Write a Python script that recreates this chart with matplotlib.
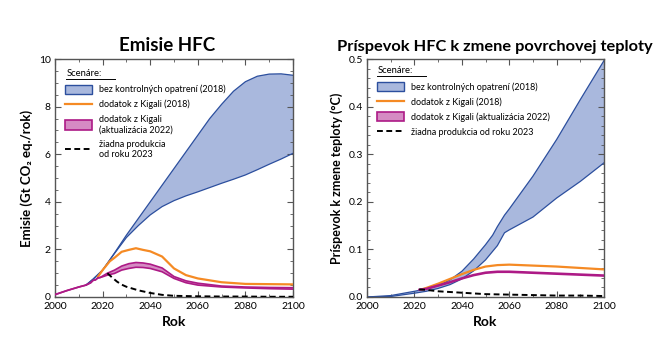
import matplotlib.pyplot as plt
from matplotlib.patches import Patch
from matplotlib.lines import Line2D
from matplotlib.ticker import MultipleLocator

plt.rcParams['font.family'] = ['Lato', 'DejaVu Sans']

# --- Emisie HFC (Gt CO2 eq./rok) ---
em_bau_years = [2013, 2016, 2020, 2025, 2030, 2035, 2040, 2045, 2050, 2055, 2060, 2065,
                2070, 2075, 2080, 2085, 2090, 2095, 2100]
em_bau_hi = [0.5, 0.75, 1.13, 1.85, 2.6, 3.3, 4.0, 4.7, 5.4, 6.1, 6.8, 7.5,
             8.1, 8.65, 9.05, 9.28, 9.37, 9.38, 9.32]
em_bau_lo = [0.5, 0.75, 1.13, 1.83, 2.5, 3.0, 3.45, 3.8, 4.05, 4.25, 4.42, 4.6,
             4.78, 4.95, 5.13, 5.35, 5.58, 5.8, 6.04]

em_k18_years = [2018, 2020, 2023, 2025, 2028, 2031, 2034, 2037, 2040, 2045, 2050, 2055,
                2060, 2070, 2080, 2090, 2100]
em_k18 = [0.85, 1.13, 1.5, 1.65, 1.9, 1.98, 2.05, 1.98, 1.92, 1.7, 1.2, 0.92,
          0.78, 0.62, 0.55, 0.54, 0.53]

em_k22_years = [2000, 2005, 2010, 2013, 2015, 2016, 2017, 2018, 2019, 2020, 2022, 2025,
                2028, 2031, 2034, 2037, 2040, 2045, 2050, 2055, 2060, 2070, 2080, 2090, 2100]
em_k22_hi = [0.1, 0.27, 0.42, 0.5, 0.6, 0.7, 0.72, 0.8, 0.82, 0.88, 1.0, 1.13,
             1.3, 1.4, 1.45, 1.43, 1.38, 1.22, 0.86, 0.68, 0.58, 0.46, 0.42, 0.4, 0.39]
em_k22_lo = [0.1, 0.27, 0.42, 0.5, 0.6, 0.7, 0.72, 0.8, 0.82, 0.85, 0.92, 0.99,
             1.13, 1.2, 1.25, 1.24, 1.2, 1.06, 0.78, 0.6, 0.5, 0.42, 0.38, 0.35, 0.33]

em_zero_years = [2022, 2024, 2026, 2028, 2030, 2035, 2040, 2045, 2050, 2060, 2070, 2080, 2090, 2100]
em_zero = [1.0, 0.82, 0.65, 0.52, 0.43, 0.28, 0.17, 0.09, 0.05, 0.03, 0.02, 0.02, 0.01, 0.01]

# --- Príspevok k zmene teploty (°C) ---
t_bau_years = [2000, 2010, 2020, 2025, 2030, 2035, 2040, 2045, 2050, 2053, 2055, 2058,
               2060, 2070, 2080, 2090, 2100]
t_bau_hi = [0.0, 0.003, 0.012, 0.017, 0.024, 0.036, 0.054, 0.08, 0.11, 0.13, 0.148, 0.172,
            0.185, 0.254, 0.331, 0.415, 0.497]
t_bau_lo = [0.0, 0.001, 0.008, 0.012, 0.018, 0.026, 0.038, 0.055, 0.078, 0.096, 0.108, 0.135,
            0.141, 0.168, 0.208, 0.243, 0.282]

t_k18_years = [2023, 2025, 2030, 2035, 2040, 2045, 2050, 2055, 2060, 2070, 2080, 2090, 2100]
t_k18 = [0.016, 0.019, 0.028, 0.038, 0.048, 0.057, 0.064, 0.067, 0.068, 0.066, 0.064, 0.061, 0.058]

t_k22_years = [2022, 2025, 2030, 2035, 2040, 2045, 2050, 2055, 2060, 2070, 2080, 2090, 2100]
t_k22_hi = [0.016, 0.018, 0.025, 0.032, 0.04, 0.047, 0.052, 0.054, 0.054, 0.052, 0.05, 0.048, 0.046]
t_k22_lo = [0.015, 0.016, 0.023, 0.030, 0.038, 0.045, 0.050, 0.052, 0.052, 0.050, 0.048, 0.046, 0.044]

t_zero_years = [2022, 2025, 2030, 2040, 2050, 2060, 2070, 2080, 2090, 2100]
t_zero = [0.016, 0.015, 0.012, 0.009, 0.006, 0.005, 0.004, 0.003, 0.003, 0.002]

labels_left = ['bez kontrolných opatrení (2018)', 'dodatok z Kigali (2018)',
               'dodatok z Kigali\n(aktualizácia 2022)', 'žiadna produkcia\nod roku 2023']
labels_right = ['bez kontrolných opatrení (2018)', 'dodatok z Kigali (2018)',
                'dodatok z Kigali (aktualizácia 2022)', 'žiadna produkcia od roku 2023']

blue_edge = '#2c4f9e'
blue_fill = '#a9b8dd'
orange = '#f58a24'
mag_edge = '#ad1a86'
mag_fill = '#d58bc3'
spine_col = '#555555'

fig = plt.figure(figsize=(6.58, 3.61), dpi=100)
ax1 = fig.add_axes([0.0836, 0.1773, 0.3617, 0.659])
ax2 = fig.add_axes([0.5578, 0.1773, 0.3602, 0.659])


def draw(ax, bau, k18, k22, zero):
    ax.fill_between(bau[0], bau[1], bau[2], facecolor=blue_fill, edgecolor='none', zorder=1)
    ax.plot(bau[0], bau[1], color=blue_edge, lw=0.9, zorder=2)
    ax.plot(bau[0], bau[2], color=blue_edge, lw=0.9, zorder=2)
    ax.plot(k18[0], k18[1], color=orange, lw=1.6, zorder=3)
    ax.fill_between(k22[0], k22[1], k22[2], facecolor=mag_fill, edgecolor='none', zorder=4)
    ax.plot(k22[0], k22[1], color=mag_edge, lw=1.2, zorder=5)
    ax.plot(k22[0], k22[2], color=mag_edge, lw=1.2, zorder=5)
    ax.plot(zero[0], zero[1], color='black', lw=1.4, ls=(0, (3, 1.8)), zorder=6)


draw(ax1, (em_bau_years, em_bau_hi, em_bau_lo), (em_k18_years, em_k18),
     (em_k22_years, em_k22_hi, em_k22_lo), (em_zero_years, em_zero))
draw(ax2, (t_bau_years, t_bau_hi, t_bau_lo), (t_k18_years, t_k18),
     (t_k22_years, t_k22_hi, t_k22_lo), (t_zero_years, t_zero))

ax1.set_ylim(0, 10)
ax1.yaxis.set_major_locator(MultipleLocator(2))
ax1.yaxis.set_minor_locator(MultipleLocator(0.5))
ax2.set_ylim(0, 0.5)
ax2.yaxis.set_major_locator(MultipleLocator(0.1))
ax2.yaxis.set_minor_locator(MultipleLocator(0.02))
ax2.yaxis.set_major_formatter(plt.FormatStrFormatter('%.1f'))

handles = [Patch(facecolor=blue_fill, edgecolor=blue_edge, lw=1.0),
           Line2D([], [], color=orange, lw=1.6),
           Patch(facecolor=mag_fill, edgecolor=mag_edge, lw=1.2),
           Line2D([], [], color='black', lw=1.4, ls=(0, (3, 1.8)))]

for ax, labels, tx, ty, ul in [(ax1, labels_left, 0.05, 0.94, 0.25),
                               (ax2, labels_right, 0.045, 0.952, 0.25)]:
    ax.set_xlim(2000, 2100)
    ax.xaxis.set_major_locator(MultipleLocator(20))
    ax.xaxis.set_minor_locator(MultipleLocator(10))
    ax.tick_params(which='both', direction='in', top=True, right=True,
                   color=spine_col, labelsize=7.5)
    ax.tick_params(which='major', length=4)
    ax.tick_params(which='minor', length=2.5)
    ax.tick_params(axis='x', pad=3.5)
    ax.tick_params(axis='y', pad=3)
    for s in ax.spines.values():
        s.set_color(spine_col)
        s.set_linewidth(1.0)
    ax.set_xlabel('Rok', fontsize=10, fontweight='bold', labelpad=4)
    ax.text(tx, ty, 'Scenáre:', transform=ax.transAxes, fontsize=6.8, va='center', ha='left')
    ax.plot([tx - 0.003, ul], [ty - 0.022, ty - 0.022], transform=ax.transAxes,
            color='black', lw=0.7)
    ax.legend(handles, labels, loc='upper left', bbox_to_anchor=(0.02, ty - 0.025),
              frameon=False, fontsize=6.5, handlelength=3.0, handleheight=1.2,
              labelspacing=0.6, handletextpad=0.8, borderaxespad=0.2)

ax1.set_ylabel('Emisie (Gt CO₂ eq./rok)', fontsize=9.5, fontweight='bold', labelpad=4)
ax2.set_ylabel('Príspevok k zmene teploty (°C)', fontsize=9, fontweight='bold', labelpad=4)
ax1.set_title('Emisie HFC', fontsize=13.5, fontweight='bold', pad=6, x=0.47)
ax2.set_title('Príspevok HFC k zmene povrchovej teploty', fontsize=11.8,
              fontweight='bold', pad=6, x=0.54)

fig.savefig('out.png', dpi=100)
